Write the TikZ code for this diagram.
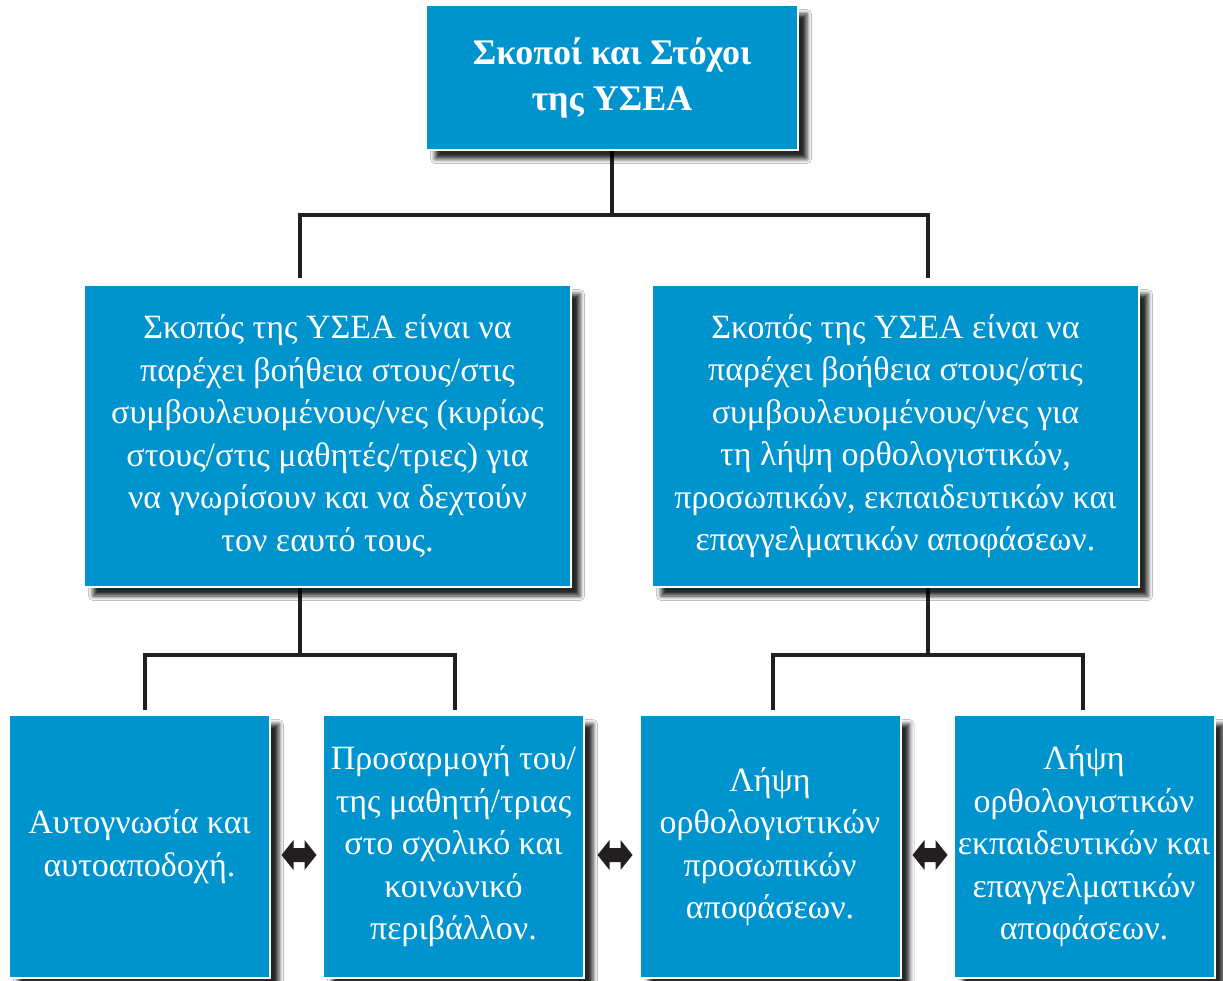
\documentclass[tikz,border=0pt]{standalone}
\usepackage{fontspec}
\setmainfont{Liberation Serif}
\usetikzlibrary{shadows.blur}
\definecolor{boxblue}{RGB}{0,148,206}
\definecolor{linedark}{RGB}{35,31,32}
\tikzset{
  box/.style={fill=boxblue, draw=white, line width=2pt, text=white, align=center, inner sep=0pt,
    blur shadow={shadow xshift=9pt, shadow yshift=-9pt, shadow blur radius=4.5pt, shadow opacity=85},
    font=\fontsize{34}{42.5}\selectfont},
  conn/.style={draw=linedark, line width=4pt},
  dbl/.pic={\fill[linedark] (-17.5,0) -- (-5.5,-15) -- (-5.5,-7) -- (5.5,-7) -- (5.5,-15)
     -- (17.5,0) -- (5.5,15) -- (5.5,7) -- (-5.5,7) -- (-5.5,15) -- cycle;}
}
\begin{document}
\begin{tikzpicture}[x=1pt,y=-1pt]
\useasboundingbox (0,0) rectangle (1223,981);
\fill[white] (0,0) rectangle (1223,981);
% junction coordinates
\coordinate (tb) at (612,149);
\coordinate (c1) at (612,215);
\coordinate (la) at (300,278);
\coordinate (ra) at (928,278);
\coordinate (lt) at (300,586);
\coordinate (lh) at (300,655);
\coordinate (b1t) at (145,710);
\coordinate (b2t) at (455,710);
\coordinate (rt) at (928,586);
\coordinate (rh) at (928,655);
\coordinate (b3t) at (773,710);
\coordinate (b4t) at (1083,710);
% connectors (behind)
\draw[conn] (tb) -- (c1);
\draw[conn] (la) |- (c1) -| (ra);
\draw[conn] (lt) -- (lh);
\draw[conn] (b1t) |- (lh) -| (b2t);
\draw[conn] (rt) -- (rh);
\draw[conn] (b3t) |- (rh) -| (b4t);
% boxes
\node[box, minimum width=372pt, minimum height=145pt, font=\fontsize{36}{46}\selectfont\bfseries] (top) at (612,77.5)
  {Σκοποί και Στόχοι\\της ΥΣΕΑ};
\node[box, minimum width=487pt, minimum height=302pt] (ml) at (327.5,436)
  {Σκοπός της ΥΣΕΑ είναι να\\παρέχει βοήθεια στους/στις\\συμβουλευομένους/νες (κυρίως\\στους/στις μαθητές/τριες) για\\να γνωρίσουν και να δεχτούν\\τον εαυτό τους.};
\node[box, minimum width=487pt, minimum height=302pt] (mr) at (895.5,436)
  {Σκοπός της ΥΣΕΑ είναι να\\παρέχει βοήθεια στους/στις\\συμβουλευομένους/νες για\\τη λήψη ορθολογιστικών,\\προσωπικών, εκπαιδευτικών και\\επαγγελματικών αποφάσεων.};
\node[box, minimum width=261pt, minimum height=263pt] (b1) at (139.5,846.5)
  {Αυτογνωσία και\\αυτοαποδοχή.};
\node[box, minimum width=261pt, minimum height=263pt] (b2) at (453.5,846.5)
  {Προσαρμογή του/\\της μαθητή/τριας\\στο σχολικό και\\κοινωνικό\\περιβάλλον.};
\node[box, minimum width=261pt, minimum height=263pt] (b3) at (770,846.5)
  {Λήψη\\ορθολογιστικών\\προσωπικών\\αποφάσεων.};
\node[box, minimum width=261pt, minimum height=263pt] (b4) at (1084,846.5)
  {Λήψη\\ορθολογιστικών\\εκπαιδευτικών και\\επαγγελματικών\\αποφάσεων.};
% double arrows
\pic (a1) at (299,855) {dbl};
\pic (a2) at (615,855) {dbl};
\pic (a3) at (930,855) {dbl};
\end{tikzpicture}
\end{document}
